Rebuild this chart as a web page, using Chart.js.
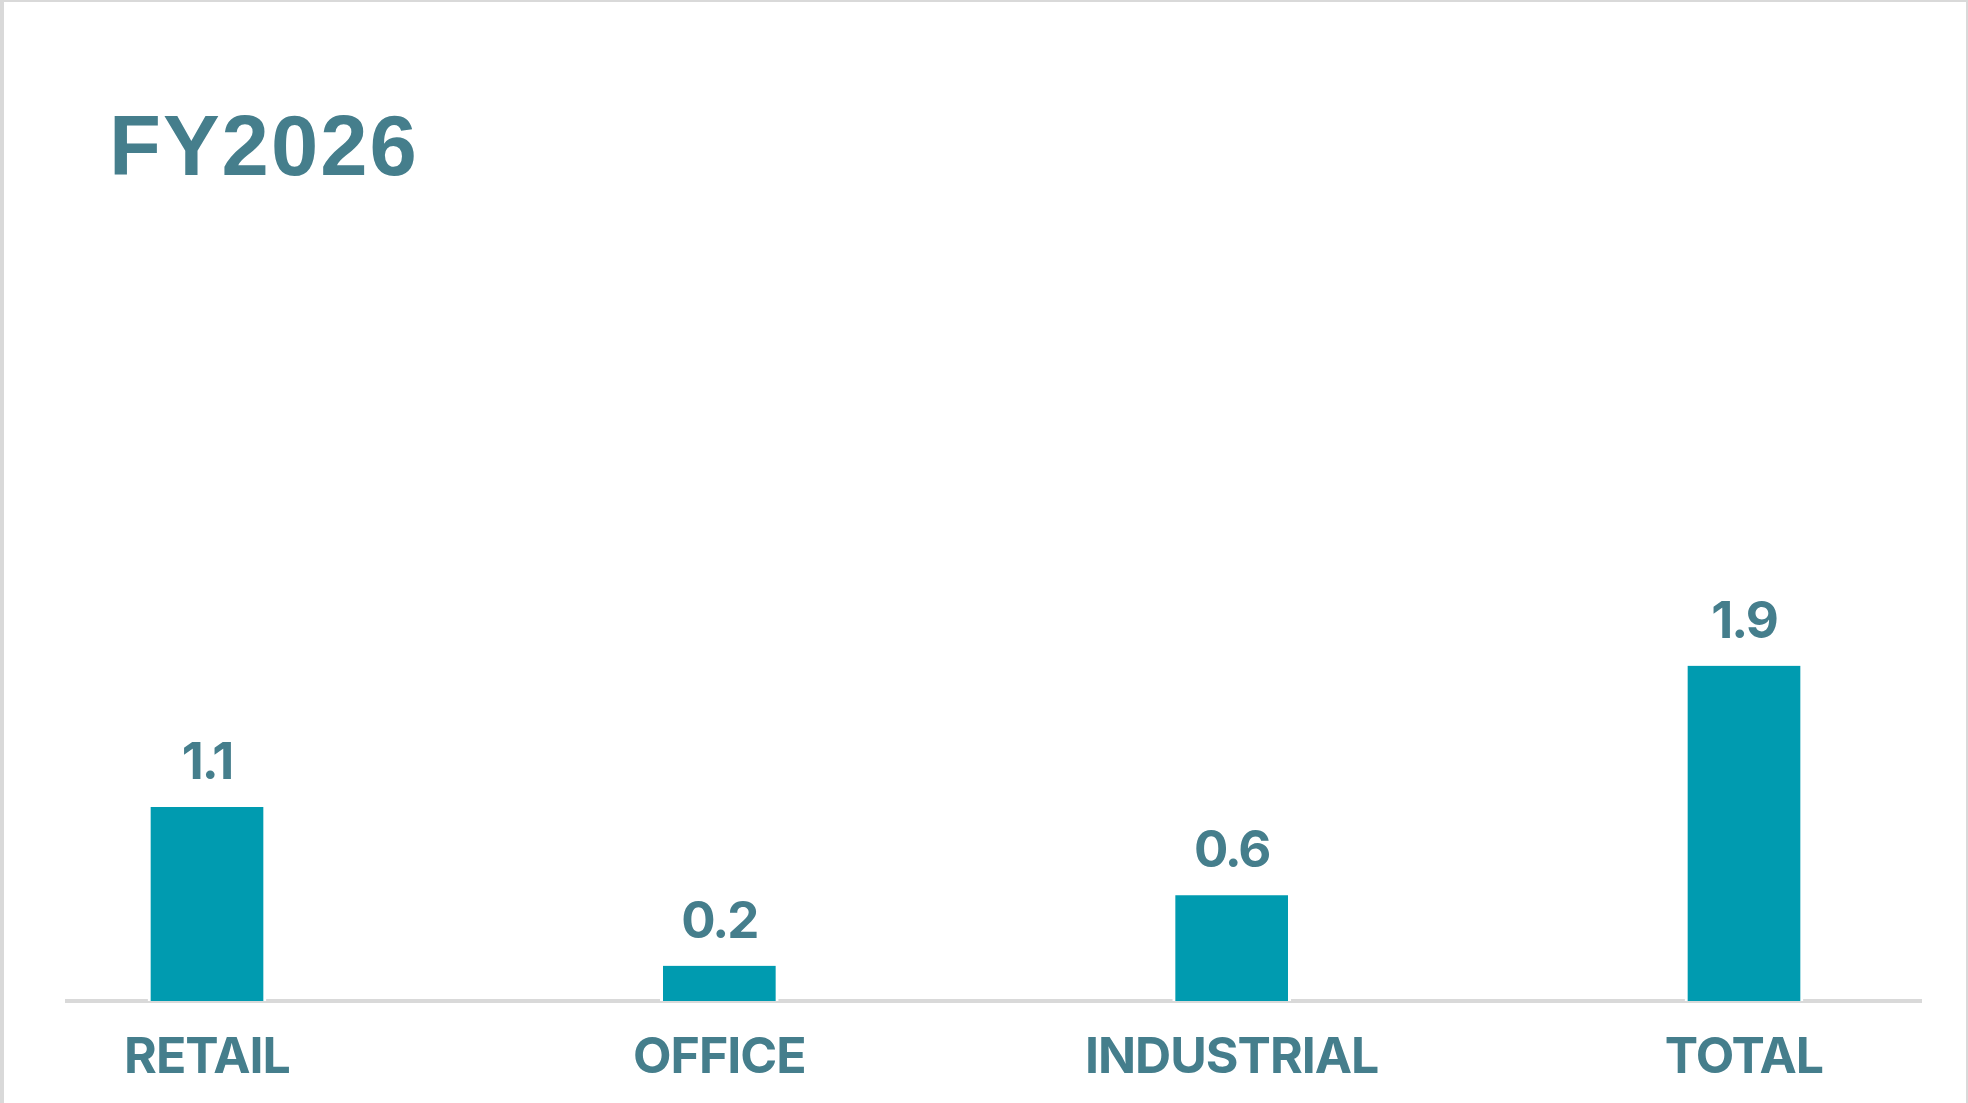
<!DOCTYPE html>
<html>
<head>
<meta charset="utf-8">
<title>FY2026</title>
<script src="https://cdn.jsdelivr.net/npm/chart.js@4.4.1/dist/chart.umd.min.js"></script>
<style>
  html, body { margin: 0; padding: 0; background: #fff; }
  #page { position: relative; width: 1968px; height: 1103px; overflow: hidden; }
  #myChart { position: absolute; left: 0; top: 0; }
  #frame {
    position: absolute; left: 0; top: 0; width: 1968px; height: 1103px;
    box-sizing: border-box; border-left: 4px solid #d9d9d9; border-top: 2px solid #d9d9d9;
    border-right: 2px solid #d9d9d9; pointer-events: none;
  }
  #title {
    position: absolute; left: 109px; top: 103px; margin: 0;
    font-family: "Liberation Sans", Arial, sans-serif; font-weight: bold;
    font-size: 85px; line-height: 1; letter-spacing: 2px; color: #457e8c;
  }
</style>
</head>
<body>
<div id="page">
  <canvas id="myChart" width="1968" height="1103"></canvas>
  <h1 id="title">FY2026</h1>
  <div id="frame"></div>
</div>
<script>
// Categorias e valores //
const categorias = ["RETAIL", "OFFICE", "INDUSTRIAL", "TOTAL"];
const valores = [1.1, 0.2, 0.6, 1.9];
const rotulos = ["1.1", "0.2", "0.6", "1.9"];

const corBarra = "#009bb0";
const corTexto = "#457e8c";
const corEixo = "#d9d9d9";

// Texto um pouco mais apertado //
const espacamento = {
    id: "espacamento",
    beforeDraw(chart) {
        chart.ctx.letterSpacing = "-1px";
    },
};

// Linha de base cinza, mais larga que a área do gráfico //
const linhaBase = {
    id: "linhaBase",
    beforeDatasetsDraw(chart) {
        const ctx = chart.ctx;
        const area = chart.chartArea;
        const y = chart.scales.y.getPixelForValue(0);
        ctx.save();
        ctx.strokeStyle = corEixo;
        ctx.lineWidth = 4;
        ctx.beginPath();
        ctx.moveTo(area.left - 142, y);
        ctx.lineTo(area.right + 178, y);
        ctx.stroke();
        ctx.restore();
    },
};

// Valores escritos acima de cada barra //
const rotulosValor = {
    id: "rotulosValor",
    afterDatasetsDraw(chart) {
        const ctx = chart.ctx;
        const meta = chart.getDatasetMeta(0);
        ctx.save();
        ctx.fillStyle = corTexto;
        ctx.font = "bold 51px Inter";
        ctx.letterSpacing = "-2px";
        ctx.textAlign = "center";
        ctx.textBaseline = "alphabetic";
        meta.data.forEach(function (bar, i) {
            ctx.fillText(rotulos[i], bar.x, bar.y - 28);
        });
        ctx.restore();
    },
};

const data = {
    labels: categorias,
    datasets: [
        {
            data: valores,
            backgroundColor: corBarra,
            borderColor: "#ffffff",
            borderWidth: { left: 3, right: 3, top: 0, bottom: 0 },
            borderSkipped: false,
            barThickness: 118,
            clip: false,
        },
    ],
};

const config = {
    type: "bar",
    data: data,
    options: {
        responsive: false,
        animation: false,
        devicePixelRatio: 1,
        layout: {
            padding: { left: 207, right: 224, top: 560, bottom: 0 },
        },
        plugins: {
            legend: { display: false },
            tooltip: { enabled: false },
        },
        scales: {
            x: {
                offset: false,
                grid: { display: false, drawTicks: false },
                border: { display: false },
                afterFit(scale) {
                    scale.height = 102;
                },
                ticks: {
                    color: corTexto,
                    padding: 27,
                    maxRotation: 0,
                    autoSkip: false,
                    font: { family: "Inter", weight: "bold", size: 50 },
                },
            },
            y: {
                display: false,
                min: 0,
                max: 2.5,
            },
        },
    },
    plugins: [espacamento, linhaBase, rotulosValor],
};

const myChart = new Chart(document.getElementById("myChart"), config);
</script>
</body>
</html>
